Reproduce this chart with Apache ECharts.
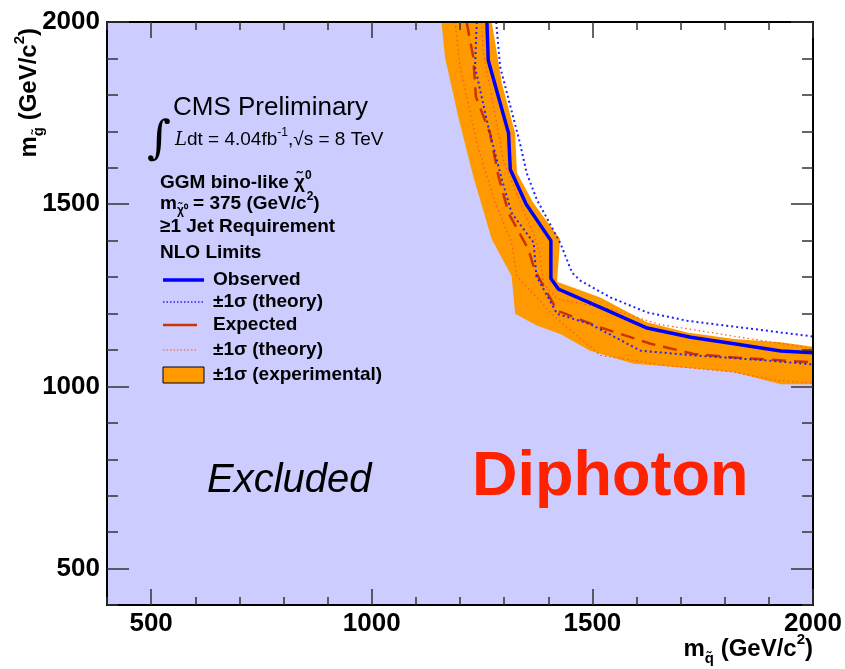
<!DOCTYPE html>
<html>
<head>
<meta charset="utf-8">
<script src="https://cdn.jsdelivr.net/npm/echarts@6/dist/echarts.min.js"></script>
<style>
  html, body { margin: 0; padding: 0; background: #fff; }
  #main { width: 845px; height: 669px; }
</style>
</head>
<body>
<div id="main"></div>
<script>
// axis range (GeV/c^2)
var AX_MIN = 400, AX_MAX = 2000;
var tickLabels = [500, 1000, 1500, 2000];

// limit contours, [m_squark, m_gluino]
var observed = [[1261,2000],[1264,1895],[1310,1695],[1314,1595],[1350,1500],[1406,1400],[1406,1296],[1423,1267],[1518,1217],[1624,1160],[1723,1135],[1821,1117],[1927,1097],[2000,1092]];
var observedUp = [[1282,2000],[1291,1877],[1336,1667],[1351,1586],[1374,1513],[1427,1394],[1454,1312],[1473,1290],[1541,1244],[1624,1203],[1715,1180],[1821,1164],[1927,1148],[2000,1137]];
var observedDown = [[1238,2000],[1234,1877],[1264,1713],[1295,1567],[1317,1476],[1367,1394],[1373,1303],[1420,1199],[1495,1171],[1609,1098],[1730,1085],[1897,1071],[2000,1060]];
var expected = [[1215,2000],[1230,1904],[1236,1795],[1268,1695],[1287,1577],[1310,1476],[1355,1376],[1370,1317],[1420,1208],[1518,1162],[1632,1117],[1730,1089],[1836,1078],[2000,1066]];
var expectedUp = [[1249,2000],[1253,1914],[1275,1777],[1298,1621],[1328,1530],[1366,1420],[1381,1365],[1389,1283],[1419,1240],[1540,1212],[1653,1170],[1819,1138],[2000,1104]];
var expectedDown = [[1189,2000],[1200,1877],[1242,1650],[1280,1504],[1317,1394],[1329,1303],[1412,1194],[1518,1085],[1670,1057],[1821,1039],[1920,1016],[2000,1009]];
var bandUp = [[1272,2000],[1295,1831],[1325,1695],[1329,1586],[1366,1504],[1427,1404],[1420,1287],[1518,1244],[1624,1176],[1715,1148],[1821,1130],[1927,1121],[2000,1109]];
var bandDown = [[1158,2000],[1166,1904],[1196,1740],[1230,1577],[1272,1404],[1317,1303],[1325,1199],[1374,1167],[1427,1144],[1495,1098],[1594,1062],[1745,1048],[1821,1039],[1927,1006],[2000,1006]];

var FONT = 'Liberation Sans';

function polygonSeries(points, color) {
    return {
        type: 'custom',
        coordinateSystem: 'cartesian2d',
        clip: true,
        silent: true,
        data: [0],
        renderItem: function (params, api) {
            return {
                type: 'polygon',
                shape: { points: points.map(function (p) { return api.coord(p); }) },
                style: { fill: color, stroke: null }
            };
        }
    };
}

function lineSeries(data, color, width, dash) {
    return {
        type: 'line',
        data: data,
        showSymbol: false,
        symbol: 'none',
        silent: true,
        clip: true,
        lineStyle: { color: color, width: width, type: dash }
    };
}

// excluded region = everything below the observed contour
var excludedPoly = [[AX_MIN, AX_MAX]].concat(observed, [[AX_MAX, AX_MIN], [AX_MIN, AX_MIN]]);
var bandPoly = bandUp.concat(bandDown.slice().reverse());

function plain(v) { return String(v); }

function makeAxis(pos, len, major, labelled, margin) {
    return {
        type: 'value', position: pos, min: AX_MIN, max: AX_MAX, interval: 100, z: 10,
        axisLine: { show: !major, onZero: false, lineStyle: { color: '#000', width: 2 } },
        axisTick: major ? { inside: true, length: len, customValues: tickLabels, lineStyle: { color: '#333', width: 1.5 } }
                        : { inside: true, length: len, lineStyle: { color: '#333', width: 1.5 } },
        axisLabel: labelled ? {
            customValues: tickLabels, margin: margin, color: '#000', formatter: plain,
            fontFamily: FONT, fontWeight: 'bold', fontSize: 26
        } : { show: false },
        splitLine: { show: false }
    };
}

var subsup = {
    n: { fontFamily: FONT, fontWeight: 'bold', fontSize: 19, lineHeight: 26, verticalAlign: 'middle', fill: '#000' },
    sub: { fontFamily: FONT, fontWeight: 'bold', fontSize: 12, lineHeight: 26, verticalAlign: 'bottom', fill: '#000' },
    sup: { fontFamily: FONT, fontWeight: 'bold', fontSize: 12, lineHeight: 26, verticalAlign: 'top', fill: '#000' }
};
var titleRich = {
    n: { fontFamily: FONT, fontWeight: 'bold', fontSize: 24, lineHeight: 34, verticalAlign: 'middle', fill: '#000' },
    sub: { fontFamily: FONT, fontWeight: 'bold', fontSize: 15, lineHeight: 34, verticalAlign: 'bottom', fill: '#000' },
    sup: { fontFamily: FONT, fontWeight: 'bold', fontSize: 15, lineHeight: 34, verticalAlign: 'top', fill: '#000' }
};

function txt(x, y, text, extra) {
    var st = { text: text, x: 0, y: 0, fill: '#000', fontFamily: FONT, verticalAlign: 'middle' };
    for (var k in extra) st[k] = extra[k];
    return { type: 'text', x: x, y: y, z: 100, style: st };
}
function seg(x1, x2, y, color, w, dash) {
    return { type: 'line', z: 100, shape: { x1: x1, y1: y, x2: x2, y2: y },
             style: { stroke: color, lineWidth: w, lineDash: dash || null } };
}

var legendFont = { fontWeight: 'bold', fontSize: 19 };

var myChart = echarts.init(document.getElementById('main'));
var option = {
    backgroundColor: '#fff',
    animation: false,
    grid: { left: 107, right: 32, top: 22, bottom: 64, containLabel: false },
    xAxis: [
        makeAxis('bottom', 8, false, true, 6),
        makeAxis('bottom', 16, true, false),
        makeAxis('top', 8, false, false),
        makeAxis('top', 16, true, false)
    ],
    yAxis: [
        makeAxis('left', 11, false, true, 7),
        makeAxis('left', 22, true, false),
        makeAxis('right', 11, false, false),
        makeAxis('right', 22, true, false)
    ],
    series: [
        polygonSeries(excludedPoly, '#ccccff'),
        polygonSeries(bandPoly, '#ff9900'),
        lineSeries(expectedUp, '#ff5522', 1.2, [1.5, 3]),
        lineSeries(expectedDown, '#ff5522', 1.2, [1.5, 3]),
        lineSeries(expected, '#cc3300', 2.5, [14, 8]),
        lineSeries(observedUp, '#2222ff', 2, [2, 3]),
        lineSeries(observedDown, '#2222ff', 2, [2, 3]),
        lineSeries(observed, '#0000ff', 3.5, 'solid')
    ],
    graphic: [
        txt(173, 108, 'CMS Preliminary', { fontSize: 26 }),
        txt(147, 141, '\u222B', { fontFamily: 'DejaVu Serif', fontSize: 46 }),
        txt(175, 140, '{L|L}{a|dt = 4.04fb}{s|-1}{a|,\u221As = 8 TeV}', {
            rich: {
                L: { fontFamily: 'DejaVu Serif', fontStyle: 'italic', fontSize: 18, lineHeight: 26, verticalAlign: 'middle' },
                a: { fontFamily: FONT, fontSize: 19, lineHeight: 26, verticalAlign: 'middle' },
                s: { fontFamily: FONT, fontSize: 12, lineHeight: 26, verticalAlign: 'top' }
            }
        }),
        txt(160, 183, '{n|GGM bino-like \u03C7\u0303}{sup|0}', { rich: subsup }),
        txt(160, 204, '{n|m}{sub|\u03C7\u0303\u2070}{n| = 375 (GeV/c}{sup|2}{n|)}', { rich: subsup }),
        txt(160, 227, '{n|\u22651 Jet Requirement}', { rich: subsup }),
        txt(160, 253, 'NLO Limits', legendFont),

        seg(163, 204, 280, '#0000ff', 3.5),
        txt(213, 280, 'Observed', legendFont),
        seg(163, 204, 302, '#2222ff', 1.5, [1.5, 2]),
        txt(213, 302, '\u00B11\u03C3 (theory)', legendFont),
        seg(163, 197, 325, '#cc3300', 2.5),
        txt(213, 325, 'Expected', legendFont),
        seg(163, 197, 350, '#ff5522', 1, [1.5, 2]),
        txt(213, 350, '\u00B11\u03C3 (theory)', legendFont),
        { type: 'rect', z: 100, shape: { x: 163, y: 367, width: 41, height: 16 },
          style: { fill: '#ff9900', stroke: '#000', lineWidth: 1 } },
        txt(213, 375, '\u00B11\u03C3 (experimental)', legendFont),

        txt(207, 481, 'Excluded', { fontSize: 40, fontStyle: 'italic' }),
        txt(472, 478, 'Diphoton', { fontSize: 63, fontWeight: 'bold', fill: '#ff2200' }),

        // axis titles
        txt(813, 649, '{n|m}{sub|q\u0303}{n| (GeV/c}{sup|2}{n|)}', { rich: titleRich, align: 'right' }),
        { type: 'text', x: 29, y: 28, rotation: Math.PI / 2, z: 100,
          style: { text: '{n|m}{sub|g\u0303}{n| (GeV/c}{sup|2}{n|)}', rich: titleRich,
                   align: 'right', verticalAlign: 'middle', fill: '#000' } }
    ]
};
myChart.setOption(option);
</script>
</body>
</html>
